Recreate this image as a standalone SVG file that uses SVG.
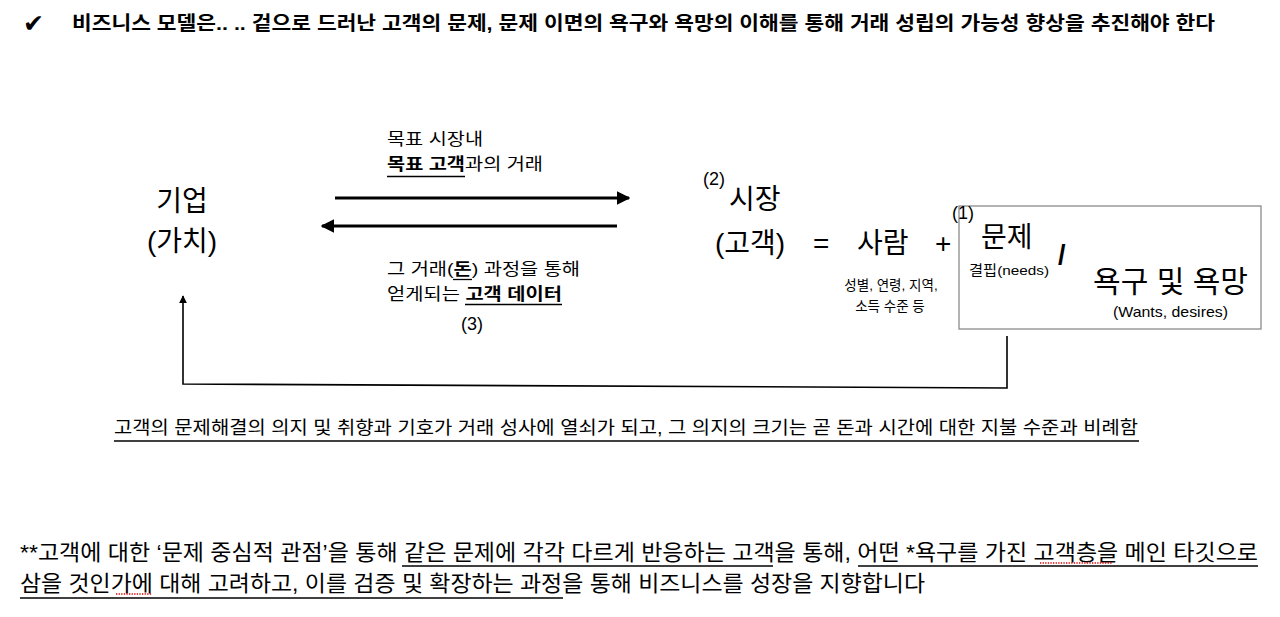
<svg xmlns="http://www.w3.org/2000/svg" width="1280" height="617" viewBox="0 0 1280 617">
<style>
text{font-family:"Liberation Sans","Noto Sans CJK KR",sans-serif;fill:#000}
.b{font-weight:bold}
.ul{stroke:#000;stroke-width:1.3}
.red{stroke:#d00;stroke-width:1.3;stroke-dasharray:1.3 1.3}
.arr{stroke:#000;stroke-width:3.2;fill:none}
.fb{stroke:#000;stroke-width:1.6;fill:none}
</style>
<defs>
<marker id="ah" viewBox="0 0 10 10" refX="9" refY="5" markerWidth="4.2" markerHeight="4.2" orient="auto" markerUnits="strokeWidth"><path d="M0,0 L10,5 L0,10 z" fill="#000"/></marker>
<marker id="ah2" viewBox="0 0 10 10" refX="9" refY="5" markerWidth="5" markerHeight="6" orient="auto" markerUnits="strokeWidth"><path d="M0,0 L10,5 L0,10 z" fill="#000"/></marker>
</defs>
<rect width="1280" height="617" fill="#fff"/>

<g id="title">
<text x="23" y="32" font-size="25" font-family="DejaVu Sans, sans-serif">✔</text>
<text x="72" y="30" font-size="19" class="b" textLength="1143" lengthAdjust="spacingAndGlyphs">비즈니스 모델은.. .. 겉으로 드러난 고객의 문제, 문제 이면의 욕구와 욕망의 이해를 통해 거래 성립의 가능성 향상을 추진해야 한다</text>
</g>

<g id="company">
<text x="182" y="211" font-size="28" text-anchor="middle">기업</text>
<text x="182" y="251" font-size="28" text-anchor="middle">(가치)</text>
</g>

<g id="label-top">
<text x="387" y="145" font-size="16.5" textLength="96" lengthAdjust="spacingAndGlyphs">목표 시장내</text>
<text x="387" y="170" font-size="16.5" textLength="156" lengthAdjust="spacingAndGlyphs"><tspan class="b">목표 고객</tspan>과의 거래</text>
<line class="ul" x1="387" y1="176.5" x2="465" y2="176.5"/>
</g>

<g id="label-bottom">
<text x="387" y="275" font-size="16.5" textLength="193" lengthAdjust="spacingAndGlyphs">그 거래(<tspan class="b">돈</tspan>) 과정을 통해</text>
<line class="ul" x1="453" y1="279.5" x2="472" y2="279.5"/>
<text x="387" y="300" font-size="16.5" textLength="175" lengthAdjust="spacingAndGlyphs">얻게되는 <tspan class="b">고객 데이터</tspan></text>
<line class="ul" x1="465" y1="304.5" x2="562" y2="304.5"/>
<text x="461" y="330" font-size="18">(3)</text>
</g>

<g id="market">
<text x="703" y="185" font-size="18">(2)</text>
<text x="729" y="209" font-size="28">시장</text>
<text x="715" y="253" font-size="28">(고객)</text>
<text x="813" y="253" font-size="28">=</text>
<text x="857" y="253" font-size="28">사람</text>
<text x="935" y="253" font-size="28">+</text>
<text x="891" y="290" font-size="13.5" text-anchor="middle">성별, 연령, 지역,</text>
<text x="890" y="311" font-size="13.5" text-anchor="middle">소득 수준 등</text>
</g>

<g id="problem-box">
<rect x="959" y="206" width="302" height="123" fill="none" stroke="#8a8a8a" stroke-width="1.3"/>
<text x="952" y="219" font-size="18">(1)</text>
<text x="981" y="247" font-size="28">문제</text>
<text x="969" y="275" font-size="13.5" textLength="80" lengthAdjust="spacingAndGlyphs">결핍(needs)</text>
<text x="1058" y="264" font-size="27" class="b">/</text>
<text x="1093" y="292" font-size="30" textLength="155" lengthAdjust="spacingAndGlyphs">욕구 및 욕망</text>
<text x="1113" y="317" font-size="15" textLength="115" lengthAdjust="spacingAndGlyphs">(Wants, desires)</text>
</g>

<g id="connectors">
<line class="arr" x1="335" y1="198" x2="629" y2="198" marker-end="url(#ah)"/>
<line class="arr" x1="617" y1="226" x2="322" y2="226" marker-end="url(#ah)"/>
<polyline class="fb" points="1007,336 1007,388 183,384 183,296" marker-end="url(#ah2)"/>
</g>

<g id="summary">
<text x="114" y="434" font-size="18" textLength="1024" lengthAdjust="spacingAndGlyphs">고객의 문제해결의 의지 및 취향과 기호가 거래 성사에 열쇠가 되고, 그 의지의 크기는 곧 돈과 시간에 대한 지불 수준과 비례함</text>
<line class="ul" x1="114" y1="441" x2="1139" y2="441"/>
</g>

<g id="footnote">
<text x="20" y="560" font-size="22" textLength="1238" lengthAdjust="spacingAndGlyphs">**고객에 대한 ‘문제 중심적 관점’을 통해 같은 문제에 각각 다르게 반응하는 고객을 통해, 어떤 *욕구를 가진 고객층을 메인 타깃으로</text>
<line class="ul" x1="402" y1="566" x2="773" y2="566"/>
<line class="ul" x1="858" y1="566" x2="1258" y2="566"/>
<line class="red" x1="1040" y1="563" x2="1112" y2="563"/>
<text x="20" y="591" font-size="22" textLength="905" lengthAdjust="spacingAndGlyphs">삼을 것인가에 대해 고려하고, 이를 검증 및 확장하는 과정을 통해 비즈니스를 성장을 지향합니다</text>
<line class="ul" x1="20" y1="598" x2="563" y2="598"/>
<line class="red" x1="116" y1="594" x2="152" y2="594"/>
</g>
</svg>
